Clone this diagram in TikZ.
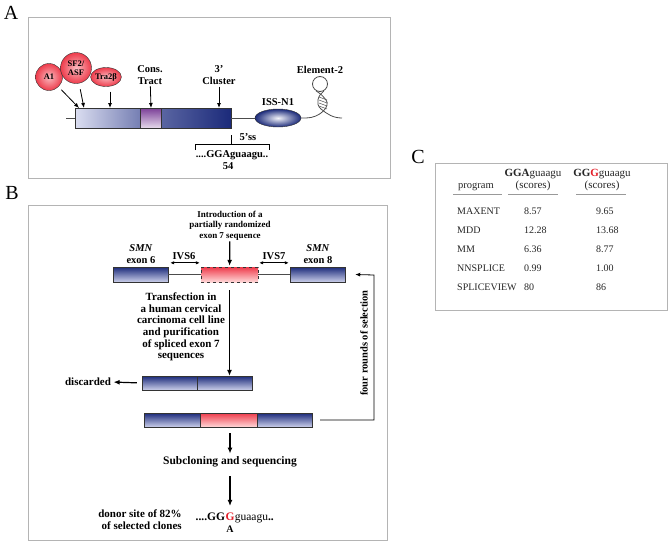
\documentclass[tikz,border=0pt]{standalone}
\usepackage{fontspec}
\setmainfont{Liberation Serif}
\usetikzlibrary{arrows.meta,shapes.geometric,positioning}
\definecolor{navy}{HTML}{1B2A7A}
\definecolor{paleblue}{HTML}{CBCFEA}
\definecolor{exred}{HTML}{EE3B4B}
\definecolor{palered}{HTML}{FFD8D8}
\definecolor{framegray}{HTML}{B4B4B4}
\definecolor{seqred}{HTML}{E3202A}
\definecolor{tract}{HTML}{7B3F98}
\begin{document}
\begin{tikzpicture}[x=1pt,y=-1pt,>={Latex[length=5pt,width=4pt]},
  frame/.style={draw=framegray,line width=0.8pt},
  panel/.style={font=\fontsize{20}{20}\selectfont,inner sep=0pt},
  lab/.style={font=\bfseries\fontsize{10.5}{11.5}\selectfont,align=center,inner sep=0pt},
  biglab/.style={font=\bfseries\fontsize{11}{11.6}\selectfont,align=center,inner sep=0pt},
  small/.style={font=\bfseries\fontsize{8.5}{9}\selectfont,align=center,inner sep=0pt},
  factor/.style={draw=black!80,inner color=exred!35!white,outer color=exred,inner sep=0pt},
  exon/.style={draw=black!80,top color=navy,bottom color=paleblue,minimum height=15pt,inner sep=0pt},
  insert/.style={draw=black!80,top color=exred,bottom color=palered,minimum height=15pt,inner sep=0pt},
  strand/.style={draw=black!70,line width=0.8pt},
  flow/.style={->,line width=1.2pt,>={Latex[length=6pt,width=5pt]}},
  tab/.style={font=\fontsize{10}{11}\selectfont,inner sep=0pt,anchor=west,text=black!85}]
\useasboundingbox (0,0) rectangle (669,544);

\node (labA) at (11,13) [panel] {A};
\draw[frame] (28,17) rectangle (390,178);
\draw[strand] (66,118) -- (75,118);
\node (exonA) at (153,118) [draw=black!80,minimum width=156pt,minimum height=20pt,inner sep=0pt,
  left color=paleblue!70!white,right color=navy,middle color=navy!60!paleblue] {};
\node (tract) at (151,118) [draw=black!80,minimum width=21pt,minimum height=20pt,inner sep=0pt,
  top color=tract,bottom color=tract!20!white] {};
\node (a1) at (49,77) [factor,circle,minimum size=27pt,small] {A1};
\node (tra) at (106,77) [factor,ellipse,minimum width=30pt,minimum height=19pt,small] {Tra2β};
\node (sf2) at (76,68) [factor,circle,minimum size=31pt,small] {SF2/\\ASF};
\coordinate (tA1) at (79,108);
\coordinate (tSF) at (84,108);
\coordinate (tTra) at (110,108);
\coordinate (tCons) at (151,108);
\coordinate (tClu) at (219,108);
\draw[->,line width=0.8pt,shorten <=4pt] (a1) -- (tA1);
\draw[->,line width=0.8pt,shorten <=6pt] (sf2) -- (tSF);
\draw[->,line width=0.8pt,shorten <=5pt] (tra.south -| tTra) -- (tTra);
\node (consL) at (150,75) [lab] {Cons.\\Tract};
\node (cluL) at (219,75) [lab] {3’\\Cluster};
\draw[->,line width=0.8pt,shorten <=2pt] (consL) -- (tCons);
\draw[->,line width=0.8pt,shorten <=2pt] (cluL.south -| tClu) -- (tClu);
\node (issL) at (278,102) [lab] {ISS-N1};
\node (iss) at (278,118) [ellipse,draw=black!80,minimum width=46pt,minimum height=18pt,inner sep=0pt,
  inner color=paleblue!25!white,outer color=navy] {};
\draw[strand] (exonA.east) -- (iss.west);
\node (elL) at (320,70) [lab] {Element-2};
\node (loop) at (320,84) [circle,strand,minimum size=15pt,inner sep=0pt] {};
\draw[strand] (iss.east) -- (306,118) .. controls (320,118) and (331,106) .. (326,100)
  .. controls (322,95) .. (loop.-120);
\draw[strand] (loop.-60) .. controls (318,95) and (315,104) .. (321,109)
  .. controls (327,114) and (333,118) .. (342,118);
\foreach \y in {97,100,103,106}
  \draw[black!70,line width=0.5pt] (319,\y) -- (327,\y+3);
\coordinate (ss) at (231,135);
\draw[line width=1pt] (ss) -- (231,144);
\node (ssL) at (248,137) [lab] {5’ss};
\draw[line width=1pt] (195,150) -- (195,144) -- (269,144) -- (269,150);
\node (seqA) at (232,155) [lab] {....GGAguaagu..};
\node (numA) at (228,166) [lab] {54};

\node (labB) at (12,193) [panel] {B};
\draw[frame] (28,205) rectangle (387,540);
\node (intro) at (230,225.5) [font=\bfseries\fontsize{9}{10.5}\selectfont,align=center,inner sep=1pt]
  {Introduction of a\\partially randomized\\exon 7 sequence};
\node (ex6) at (140.5,274.5) [exon,minimum width=55pt] {};
\node (ex7) at (229.5,274.5) [insert,dashed,minimum width=57pt] {};
\node (ex8) at (317.5,274.5) [exon,minimum width=55pt] {};
\draw[strand] (ex6) -- (ex7);
\draw[strand] (ex7) -- (ex8);
\draw[flow,shorten >=1pt] (intro) -- (ex7);
\node (ex6L) at (141,254) [lab,font=\bfseries\fontsize{10.5}{12}\selectfont] {\textit{SMN}\\exon 6};
\node (ex8L) at (318,254) [lab,font=\bfseries\fontsize{10.5}{12}\selectfont] {\textit{SMN}\\exon 8};
\node (ivs6) at (184,256) [lab] {IVS6};
\node (ivs7) at (274,256) [lab] {IVS7};
\draw[<->,line width=0.8pt,>={Latex[length=4pt,width=3.5pt]}]
  ([yshift=4pt,xshift=2pt]ex6.north east) -- ([yshift=4pt,xshift=-1pt]ex7.north west);
\draw[<->,line width=0.8pt,>={Latex[length=4pt,width=3.5pt]}]
  ([yshift=4pt,xshift=1pt]ex7.north east) -- ([yshift=4pt,xshift=-1pt]ex8.north west);
\node (transf) at (181,327) [biglab]
  {Transfection in\\a human cervical\\carcinoma cell line\\and purification\\of spliced exon 7\\sequences};
\node (d6) at (169.5,383) [exon,minimum width=55pt,minimum height=14pt] {};
\node (d8) at (224.5,383) [exon,minimum width=55pt,minimum height=14pt] {};
\draw[flow,shorten <=8pt] (ex7.south) -- (ex7.south |- d8.north);
\node (discL) at (88,382) [biglab] {discarded};
\draw[flow,shorten <=5pt,shorten >=2.5pt] (d6.west) -- (discL.east);
\node (r6) at (172,420) [exon,minimum width=56pt,minimum height=14pt] {};
\node (r7) at (228.5,420) [insert,minimum width=57pt,minimum height=14pt] {};
\node (r8) at (284.5,420) [exon,minimum width=55pt,minimum height=14pt] {};
\coordinate (fb1) at (374,420);
\coordinate (fb2) at (374,275);
\draw[->,line width=0.8pt] ([xshift=8pt]r8.east) -- (fb1) -- (fb2) -- ([xshift=10pt]ex8.east);
\node (four) at (364,343) [lab,rotate=90] {four rounds of selection};
\node (sub) at (230,462) [font=\bfseries\fontsize{11.5}{12}\selectfont,inner sep=0pt] {Subcloning and sequencing};
\draw[flow,shorten <=6pt,shorten >=3pt] (r7.south -| sub.north) -- (sub.north);
\node (gred) at (230,517) [font=\bfseries\fontsize{11.5}{12}\selectfont,inner sep=0pt,text=seqred] {G};
\node (seqL) at (gred.base west) [anchor=base east,font=\bfseries\fontsize{11.5}{12}\selectfont,inner sep=0pt] {....GG};
\node (seqR) at (gred.base east) [anchor=base west,font=\fontsize{11.5}{12}\selectfont,inner sep=0pt] {guaagu\textbf{..}};
\node (alt) at (230,529) [font=\bfseries\fontsize{10}{11}\selectfont,inner sep=0pt] {A};
\draw[flow,shorten <=9pt,shorten >=7pt] (sub.south) -- (gred.north);
\node (donor) at (140,520) [biglab,align=right,font=\bfseries\fontsize{11}{12}\selectfont]
  {donor site of 82\%\\of selected clones};

\node (labC) at (418,157) [panel] {C};
\draw[frame] (435,163) rectangle (667,310);
\node (hProg) at (476,187) [font=\fontsize{10.5}{11}\selectfont,inner sep=0pt,text=black!85] {program};
\node (hA) at (533,180) [font=\fontsize{11}{12}\selectfont,align=center,inner sep=0pt,text=black!85]
  {\textbf{GGA}guaagu\\(scores)};
\node (hG) at (602,180) [font=\fontsize{11}{12}\selectfont,align=center,inner sep=0pt,text=black!85]
  {\textbf{GG\textcolor{seqred}{G}}guaagu\\(scores)};
\draw[black!40,line width=0.6pt] (453,194) -- (502,194);
\draw[black!40,line width=0.6pt] (508,194) -- (558,194);
\draw[black!40,line width=0.6pt] (576,194) -- (626,194);
\foreach \name/\va/\vb [count=\i] in {MAXENT/8.57/9.65,MDD/12.28/13.68,MM/6.36/8.77,NNSPLICE/0.99/1.00,SPLICEVIEW/80/86}{
  \node (p\i) at (457,192+19*\i) [tab] {\name};
  \node (a\i) at (524,192+19*\i) [tab] {\va};
  \node (g\i) at (596,192+19*\i) [tab] {\vb};
}
\end{tikzpicture}
\end{document}
